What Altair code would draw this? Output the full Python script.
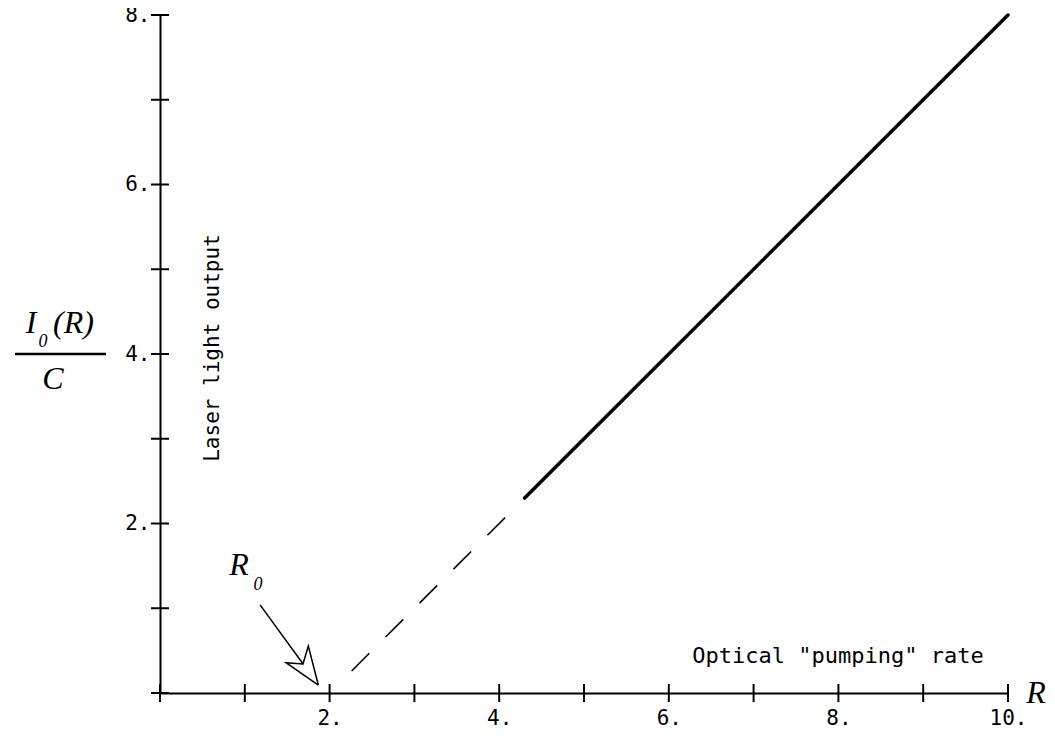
import altair as alt
import pandas as pd

# ---- data ----
solid_R = [4.3, 10.0]
solid_I = [2.3, 8.0]
dashed_R = [2.26, 4.09]
dashed_I = [0.26, 2.09]
arrow_shaft_R = [1.18, 1.69]
arrow_shaft_I = [1.04, 0.34]
arrow_head_R = [1.867, 1.486, 1.686, 1.749, 1.867]
arrow_head_I = [0.094, 0.358, 0.342, 0.555, 0.094]
x_tick_values = list(range(0, 11))
y_tick_values = list(range(0, 9))
x_label_values = [2, 4, 6, 8, 10]
y_label_values = [2, 4, 6, 8]

W, H = 848, 678
MONO = "DejaVu Sans Mono"
SERIF = "Liberation Serif"

xs = alt.Scale(domain=[0, 10], nice=False, zero=False)
ys = alt.Scale(domain=[0, 8], nice=False, zero=False)

base_x_axis = alt.Axis(values=x_label_values, labelExpr="datum.value + '.'", ticks=False,
                       tickSize=0, grid=False, domainColor="black", domainWidth=2,
                       labelFont=MONO, labelFontSize=21, labelColor="black",
                       labelPadding=14, title=None, labelFlush=False, labelOverlap=False)
base_y_axis = alt.Axis(values=y_label_values, labelExpr="datum.value + '.'", ticks=False,
                       tickSize=0, grid=False, domainColor="black", domainWidth=2,
                       labelFont=MONO, labelFontSize=21, labelColor="black",
                       labelPadding=10, title=None, labelFlush=False, labelOverlap=False)

solid_df = pd.DataFrame({"R": solid_R, "I": solid_I})
dashed_df = pd.DataFrame({"R": dashed_R, "I": dashed_I})
shaft_df = pd.DataFrame({"R": arrow_shaft_R, "I": arrow_shaft_I, "o": range(len(arrow_shaft_R))})
head_df = pd.DataFrame({"R": arrow_head_R, "I": arrow_head_I, "o": range(len(arrow_head_R))})

solid = alt.Chart(solid_df).mark_line(color="black", strokeWidth=3.5, strokeCap="round").encode(
    x=alt.X("R:Q", scale=xs, axis=base_x_axis),
    y=alt.Y("I:Q", scale=ys, axis=base_y_axis),
)
dashed = alt.Chart(dashed_df).mark_line(color="black", strokeWidth=1.6, strokeDash=[25, 23]).encode(
    x=alt.X("R:Q", scale=xs), y=alt.Y("I:Q", scale=ys)
)
shaft = alt.Chart(shaft_df).mark_line(color="black", strokeWidth=1.5).encode(
    x=alt.X("R:Q", scale=xs), y=alt.Y("I:Q", scale=ys), order="o:Q"
)
head = alt.Chart(head_df).mark_line(color="black", strokeWidth=1.5, strokeJoin="miter").encode(
    x=alt.X("R:Q", scale=xs), y=alt.Y("I:Q", scale=ys), order="o:Q"
)

xt_df = pd.DataFrame({"v": x_tick_values})
yt_df = pd.DataFrame({"v": y_tick_values})
xticks = alt.Chart(xt_df).mark_rule(color="black", strokeWidth=2).encode(
    x=alt.X("v:Q", scale=xs), y=alt.value(H - 9), y2=alt.value(H + 9)
)
yticks = alt.Chart(yt_df).mark_rule(color="black", strokeWidth=2).encode(
    y=alt.Y("v:Q", scale=ys), x=alt.value(-9), x2=alt.value(9)
)


def txt(s, x, y, size, font, style="normal", align="center", baseline="alphabetic", angle=0):
    return alt.Chart(pd.DataFrame({"t": [s]})).mark_text(
        font=font, fontSize=size, fontStyle=style, align=align, baseline=baseline,
        angle=angle, color="black"
    ).encode(text="t:N", x=alt.value(x), y=alt.value(y))


texts = [
    txt("Optical \"pumping\" rate", 678, 648, 22, MONO),
    txt("Laser light output", 53, 333, 21, MONO, baseline="middle", angle=270),
    txt("R", 876, 688, 32, SERIF, "italic"),
    txt("R", 79, 560, 32, SERIF, "italic"),
    txt("0", 98, 575, 18, SERIF, "italic"),
    txt("I", -129, 318, 32, SERIF, "italic"),
    txt("0", -117, 332, 18, SERIF, "italic"),
    txt("(R)", -107, 318, 32, SERIF, "italic", align="left"),
    txt("C", -107, 374, 32, SERIF, "italic"),
]
frac = alt.Chart(pd.DataFrame({"a": [0]})).mark_rule(color="black", strokeWidth=2.5).encode(
    x=alt.value(-145), x2=alt.value(-54), y=alt.value(339)
)

chart = alt.layer(solid, dashed, shaft, head, xticks, yticks, frac, *texts).properties(
    width=W, height=H,
    autosize=alt.AutoSizeParams(type="none"),
    padding={"left": 152, "top": 7, "right": 39, "bottom": 35},
    background="white",
).configure_view(stroke=None)

chart.save("out.html", embed_options={"renderer": "svg", "actions": False})
